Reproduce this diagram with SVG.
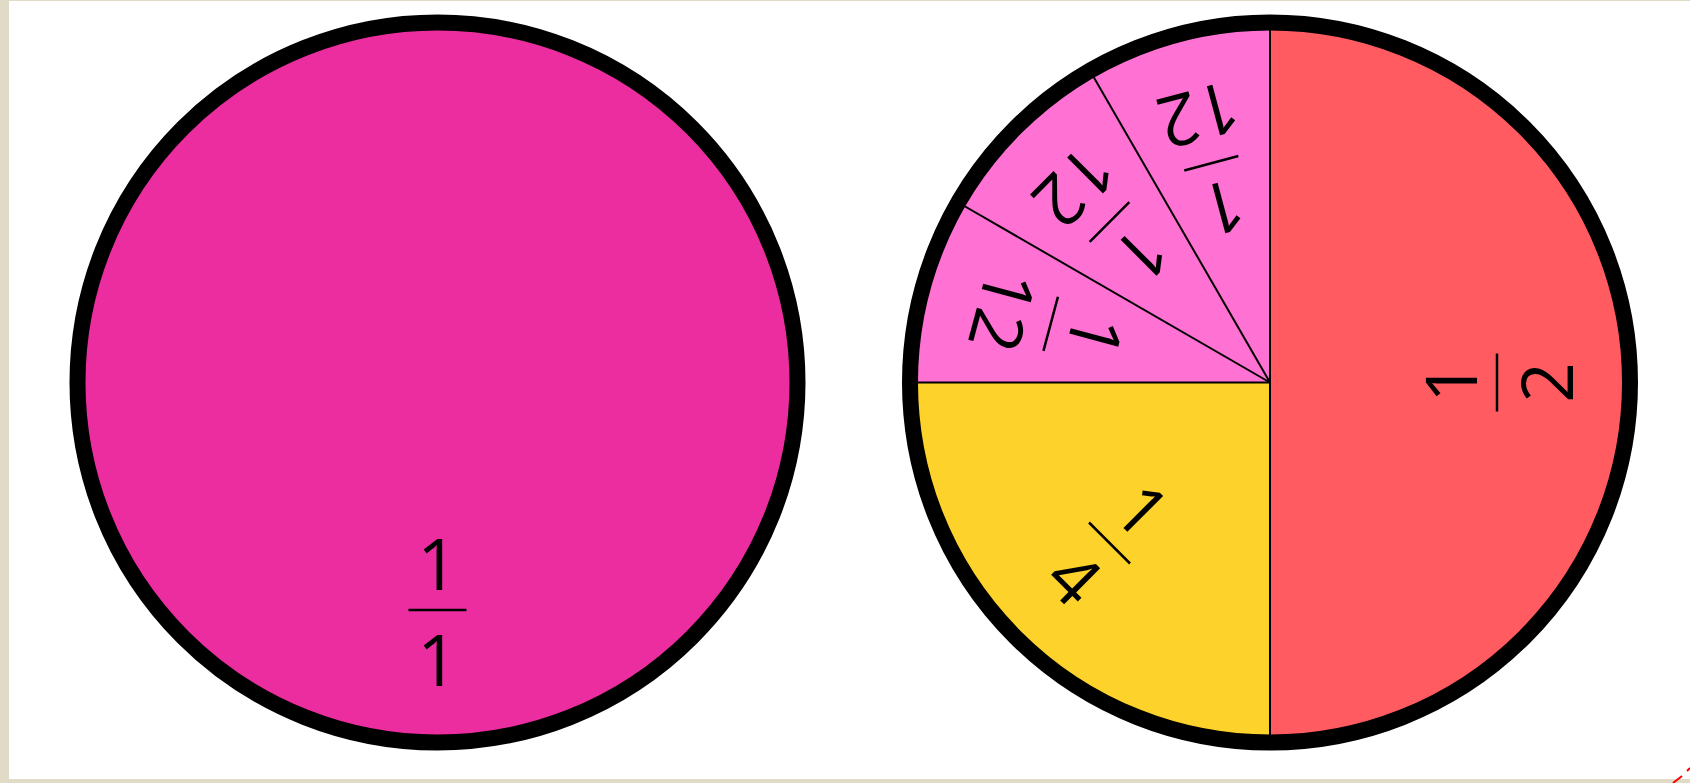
<svg xmlns="http://www.w3.org/2000/svg" width="1690" height="783" viewBox="0 0 1690 783">
  <style>
    .num { font-family: "Open Sans", "Liberation Sans", sans-serif; font-weight: 380; font-size: 71px; fill: #000; text-anchor: middle; }
    .bar { fill: #000; }
    .rim { fill: none; stroke: #000; stroke-width: 16; }
    .div { stroke: #000; stroke-width: 2; fill: none; }
  </style>
  <rect x="0" y="0" width="1690" height="783" fill="#DFDBC7"/>
  <rect x="9" y="1" width="1681" height="778" fill="#FFFFFF"/>

  <g id="whole">
    <circle cx="437.5" cy="382.5" r="360" fill="#EC2D9F"/>
    <circle class="rim" cx="437.5" cy="382.5" r="360"/>
    <g class="frac" transform="translate(437.5,610)">
      <text class="num" y="-20.5">1</text>
      <rect class="bar" x="-29" y="-1.25" width="58" height="2.5"/>
      <text class="num" y="75.5">1</text>
    </g>
  </g>

  <g id="pie">
    <g id="half">
      <path d="M1270,382.5 L1270,22.5 A360,360 0 0 1 1270,742.5 Z" fill="#FF5B60"/>
      <g class="frac" transform="translate(1497,382.5) rotate(-90)">
        <text class="num" y="-20.5">1</text>
        <rect class="bar" x="-29" y="-1.25" width="58" height="2.5"/>
        <text class="num" y="75.5">2</text>
      </g>
    </g>
    <g id="quarter">
      <path d="M1270,382.5 L1270,742.5 A360,360 0 0 1 910,382.5 Z" fill="#FDD22A"/>
      <g class="frac" transform="translate(1109.5,543) rotate(45)">
        <text class="num" y="-20.5">1</text>
        <rect class="bar" x="-29" y="-1.25" width="58" height="2.5"/>
        <text class="num" y="75.5">4</text>
      </g>
    </g>
    <g id="twelfth1">
      <path d="M1270,382.5 L910,382.5 A360,360 0 0 1 958.2,202.5 Z" fill="#FF72D3"/>
      <g class="frac" transform="translate(1050.7,323.8) rotate(105)">
        <text class="num" y="-20.5">1</text>
        <rect class="bar" x="-28" y="-1.25" width="56" height="2.5"/>
        <text class="num" y="75.5">12</text>
      </g>
    </g>
    <g id="twelfth2">
      <path d="M1270,382.5 L958.2,202.5 A360,360 0 0 1 1090,70.7 Z" fill="#FF72D3"/>
      <g class="frac" transform="translate(1109.5,222) rotate(135)">
        <text class="num" y="-20.5">1</text>
        <rect class="bar" x="-28" y="-1.25" width="56" height="2.5"/>
        <text class="num" y="75.5">12</text>
      </g>
    </g>
    <g id="twelfth3">
      <path d="M1270,382.5 L1090,70.7 A360,360 0 0 1 1270,22.5 Z" fill="#FF72D3"/>
      <g class="frac" transform="translate(1211.3,163.2) rotate(165)">
        <text class="num" y="-20.5">1</text>
        <rect class="bar" x="-28" y="-1.25" width="56" height="2.5"/>
        <text class="num" y="75.5">12</text>
      </g>
    </g>
    <g id="dividers">
      <line class="div" x1="1270" y1="22.5" x2="1270" y2="742.5"/>
      <line class="div" x1="910" y1="382.5" x2="1270" y2="382.5"/>
      <line class="div" x1="958.2" y1="202.5" x2="1270" y2="382.5"/>
      <line class="div" x1="1090" y1="70.7" x2="1270" y2="382.5"/>
    </g>
    <circle class="rim" cx="1270" cy="382.5" r="360"/>
  </g>

  <path d="M1673,783 L1682,776 M1687,771 L1690,768" stroke="#FF0000" stroke-width="2" fill="none"/>
</svg>
